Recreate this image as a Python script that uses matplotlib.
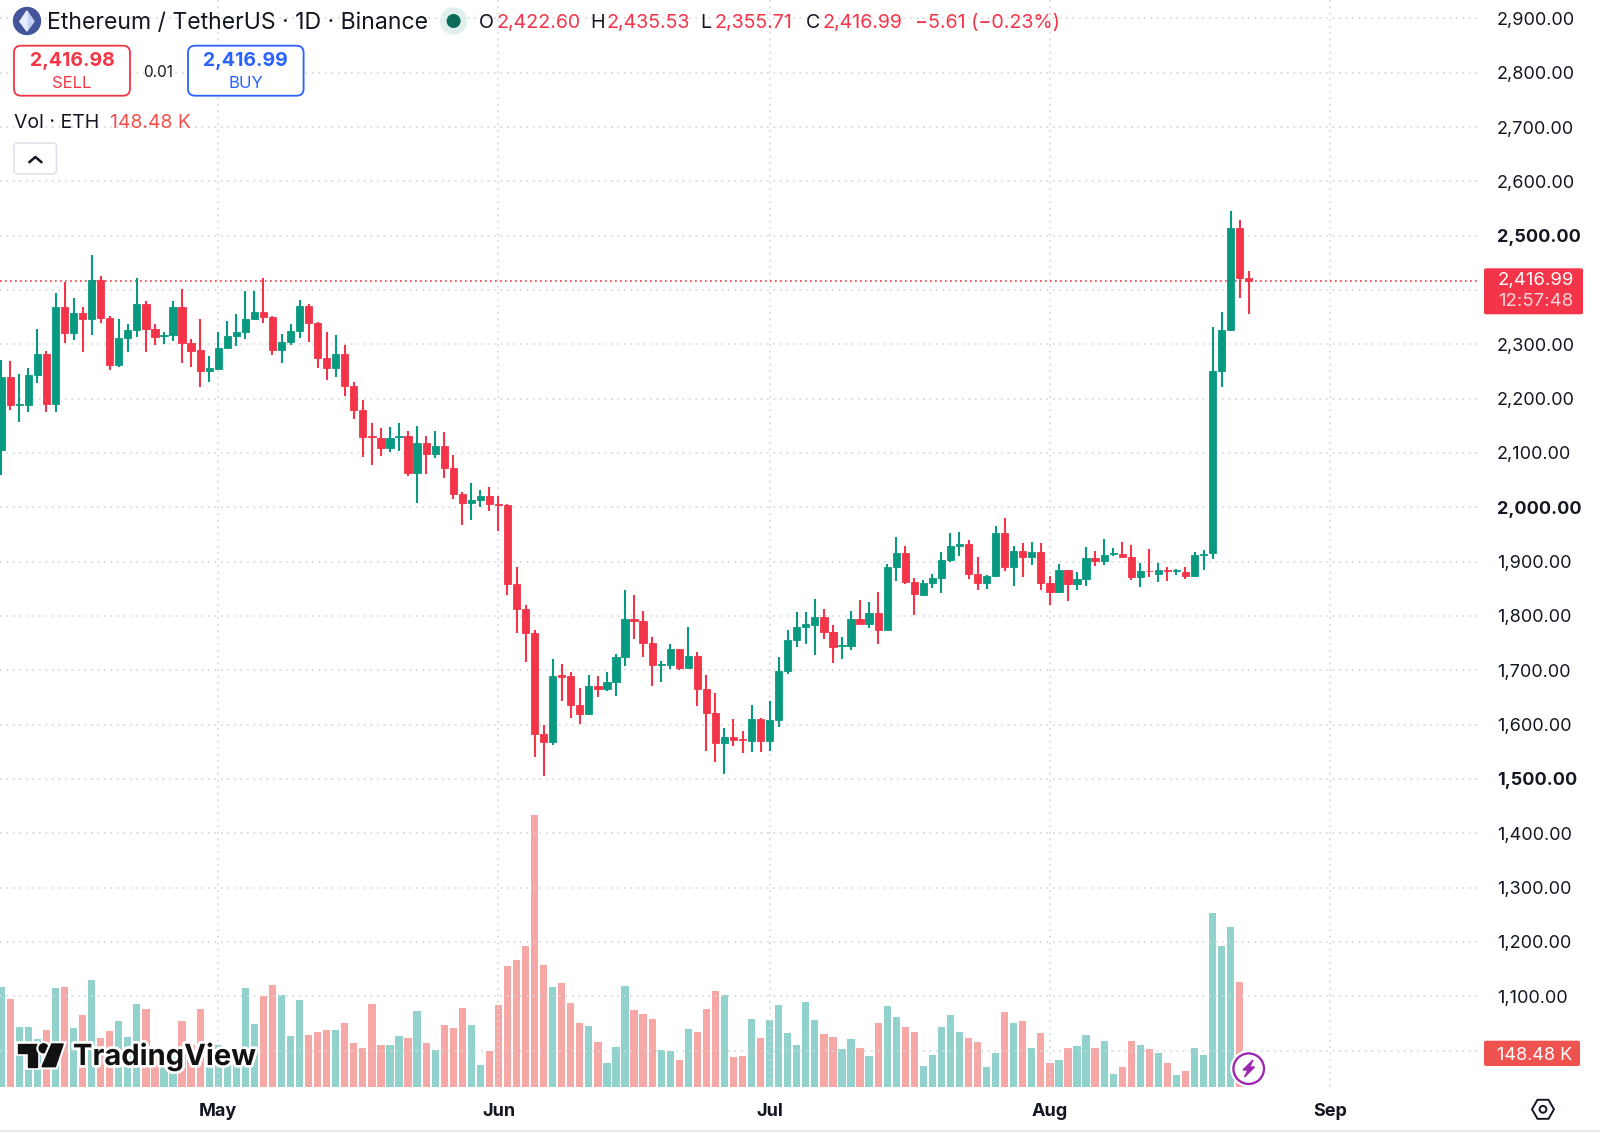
import numpy as np
import matplotlib
matplotlib.use("Agg")
import matplotlib.pyplot as plt
from matplotlib.patches import Circle, FancyBboxPatch, Polygon, Rectangle
import matplotlib.patheffects as pe

plt.rcParams['font.family'] = ['Inter', 'DejaVu Sans']

# daily candles, first one is 24 days before May 1
opens = [2105, 2239, 2189, 2189, 2243, 2283, 2190, 2368, 2321, 2358, 2347, 2418, 2348, 2262, 2312, 2326, 2374, 2329, 2315, 2318,
         2368, 2303, 2289, 2251, 2255, 2294, 2315, 2323, 2346, 2359, 2350, 2290, 2305, 2325, 2370, 2339, 2274, 2257, 2282, 2224,
         2180, 2131, 2127, 2110, 2129, 2132, 2064, 2118, 2099, 2112, 2072, 2024, 2008, 2013, 2021, 2007, 2005, 1858, 1812, 1769,
         1582, 1568, 1691, 1689, 1637, 1620, 1672, 1665, 1679, 1724, 1794, 1791, 1750, 1709, 1709, 1740, 1705, 1726, 1665, 1621,
         1567, 1577, 1574, 1570, 1611, 1570, 1608, 1698, 1756, 1779, 1784, 1798, 1770, 1744, 1744, 1795, 1786, 1805, 1774, 1891,
         1916, 1863, 1839, 1860, 1870, 1903, 1928, 1932, 1877, 1861, 1873, 1953, 1891, 1920, 1909, 1917, 1861, 1844, 1884, 1859,
         1869, 1907, 1902, 1915, 1914, 1909, 1872, 1883, 1878, 1885, 1882, 1881, 1874, 1912, 1916, 2251, 2326, 2515, 2422.60]
closes = [2239, 2189, 2191, 2243, 2283, 2190, 2368, 2321, 2358, 2347, 2418, 2348, 2262, 2312, 2326, 2374, 2329, 2314, 2318, 2368,
          2303, 2288, 2251, 2256, 2294, 2315, 2323, 2346, 2359, 2350, 2290, 2305, 2325, 2370, 2339, 2274, 2257, 2282, 2224, 2180,
          2130, 2129, 2110, 2127, 2132, 2064, 2118, 2099, 2112, 2072, 2024, 2008, 2013, 2021, 2006, 2005, 1858, 1812, 1769, 1582,
          1568, 1689, 1688, 1637, 1620, 1672, 1665, 1678, 1724, 1794, 1791, 1750, 1709, 1711, 1740, 1705, 1726, 1665, 1621, 1567,
          1577, 1572, 1572, 1611, 1570, 1608, 1698, 1756, 1779, 1785, 1798, 1770, 1742, 1746, 1795, 1786, 1805, 1775, 1891, 1916,
          1863, 1840, 1860, 1870, 1903, 1928, 1932, 1877, 1861, 1873, 1953, 1891, 1920, 1909, 1917, 1861, 1844, 1884, 1859, 1869,
          1907, 1902, 1913, 1916, 1909, 1872, 1882, 1882, 1884, 1882, 1884, 1874, 1912, 1915, 2251, 2326, 2515, 2423, 2416.99]
highs = [2272, 2270, 2245, 2257, 2329, 2288, 2394, 2415, 2385, 2368, 2464, 2426, 2353, 2346, 2337, 2422, 2380, 2337, 2323, 2379,
         2402, 2309, 2346, 2278, 2323, 2343, 2356, 2399, 2399, 2422, 2352, 2319, 2337, 2382, 2374, 2341, 2323, 2318, 2299, 2231,
         2197, 2156, 2146, 2147, 2156, 2140, 2149, 2131, 2141, 2139, 2096, 2028, 2045, 2031, 2037, 2020, 2006, 1891, 1820, 1774,
         1600, 1720, 1712, 1696, 1667, 1691, 1690, 1696, 1730, 1848, 1839, 1809, 1761, 1718, 1748, 1740, 1779, 1734, 1691, 1659,
         1593, 1610, 1588, 1636, 1613, 1644, 1724, 1775, 1807, 1807, 1831, 1812, 1783, 1761, 1810, 1829, 1826, 1844, 1895, 1945,
         1929, 1870, 1866, 1878, 1917, 1952, 1955, 1939, 1908, 1876, 1966, 1980, 1928, 1934, 1936, 1934, 1874, 1896, 1885, 1881,
         1927, 1919, 1941, 1926, 1937, 1930, 1897, 1923, 1898, 1890, 1886, 1891, 1917, 1921, 2332, 2359, 2546, 2529, 2435.53]
lows = [2059, 2179, 2157, 2176, 2229, 2175, 2175, 2303, 2308, 2285, 2318, 2340, 2253, 2259, 2285, 2314, 2286, 2299, 2301, 2307,
        2266, 2258, 2221, 2231, 2254, 2293, 2297, 2309, 2345, 2339, 2280, 2265, 2299, 2312, 2304, 2256, 2234, 2239, 2205, 2162,
        2092, 2077, 2095, 2102, 2104, 2058, 2008, 2062, 2091, 2054, 2016, 1967, 1977, 2001, 1993, 1956, 1838, 1769, 1716, 1540,
        1505, 1563, 1643, 1613, 1602, 1618, 1651, 1662, 1653, 1708, 1758, 1724, 1672, 1678, 1703, 1701, 1704, 1635, 1552, 1531,
        1510, 1561, 1548, 1550, 1550, 1552, 1596, 1694, 1743, 1748, 1728, 1758, 1713, 1721, 1737, 1785, 1778, 1749, 1773, 1864,
        1858, 1802, 1837, 1852, 1842, 1900, 1910, 1869, 1848, 1850, 1872, 1882, 1856, 1871, 1893, 1848, 1821, 1843, 1828, 1848,
        1855, 1892, 1893, 1911, 1907, 1867, 1853, 1872, 1863, 1864, 1875, 1869, 1872, 1885, 1905, 2222, 2325, 2386, 2355.71]
# volume in thousands of ETH
volumes = [441, 388, 264, 261, 209, 250, 435, 441, 259, 314, 470, 214, 245, 288, 219, 364, 341, 176, 162, 132,
           288, 184, 341, 162, 184, 132, 118, 435, 275, 401, 448, 404, 222, 382, 228, 241, 250, 250, 279, 192,
           169, 364, 182, 182, 225, 214, 335, 192, 162, 272, 259, 348, 272, 95, 159, 358, 532, 558, 620, 1197,
           535, 438, 458, 368, 279, 267, 195, 106, 173, 444, 338, 322, 298, 160, 157, 119, 253, 239, 342, 422,
           404, 129, 135, 298, 214, 295, 358, 237, 185, 375, 295, 232, 219, 167, 209, 172, 135, 282, 355, 308,
           261, 242, 93, 138, 261, 314, 242, 213, 195, 87, 150, 329, 279, 289, 172, 235, 106, 119, 169, 179,
           228, 172, 203, 56, 87, 203, 185, 166, 150, 106, 50, 69, 169, 138, 764, 620, 705, 463, 148.48]
month_pos = [24, 55, 85, 116, 147]
month_labels = ['May', 'Jun', 'Jul', 'Aug', 'Sep']
price_ticks = list(range(1000, 3000, 100))
hidden_prices = [1000, 2400]  # covered by the tags
bold_prices = [1500, 2000, 2500]
last_price = 2416.99

GREEN = '#089981'
RED = '#f43549'
GRID = '#d4d6db'
INK = '#131722'

W, H = 1600, 1134
fig = plt.figure(figsize=(W / 100, H / 100), dpi=100, facecolor='white')
pane = [0, (H - 1086.7) / H, 1480 / W, 1086.7 / H]

# volume pane sits behind the candles
ax_vol = fig.add_axes(pane, zorder=1)
ax = fig.add_axes(pane, zorder=2, facecolor='none')

x = np.arange(len(closes))
opens = np.array(opens)
closes = np.array(closes)
up = closes >= opens

ax_vol.set_ylim(0, 4788)
ax_vol.set_xlim(-0.14, 163.58)
ax_vol.bar(x, volumes, width=0.8, color=['#26a69a' if u else '#ef5350' for u in up], alpha=0.5, linewidth=0)
ax_vol.axis('off')

ax.set_xlim(-0.14, 163.58)
ax.set_ylim(933.6, 2933.8)
ax.grid(True, color=GRID, linewidth=1.2, linestyle=(0, (1, 2.9)))
ax.set_axisbelow(True)

colors = [GREEN if u else RED for u in up]
ax.vlines(x, lows, highs, color=colors, linewidth=1.5, zorder=3)
ax.bar(x, np.abs(closes - opens), bottom=np.minimum(opens, closes), width=0.8, color=colors,
       edgecolor=colors, linewidth=0.6, zorder=4)
ax.axhline(last_price, color='#f23645', linewidth=1.2, linestyle=(0, (1, 2)), zorder=2)

ax.set_xticks(month_pos)
ax.set_xticklabels(month_labels, fontsize=13, fontweight='bold', color=INK)
ax.yaxis.tick_right()
ax.set_yticks(price_ticks)
ax.set_yticklabels(['' if p in hidden_prices else f'{p:,.2f}' for p in price_ticks], fontsize=13, color=INK)
for lab, p in zip(ax.get_yticklabels(), price_ticks):
    if p in bold_prices:
        lab.set_fontweight('bold')
ax.tick_params(axis='both', length=0)
ax.tick_params(axis='y', pad=12.2)
ax.tick_params(axis='x', pad=12)
for s in ax.spines.values():
    s.set_visible(False)

# overlay in screen pixels for the trading view furniture
ui = fig.add_axes([0, 0, 1, 1], zorder=5, facecolor='none')
ui.set_xlim(0, W)
ui.set_ylim(H, 0)
ui.axis('off')


def label(px, py, s, size=14, color=INK, ha='left', weight='normal', **kw):
    return ui.text(px, py + 2, s, fontsize=size, color=color, ha=ha, va='center', fontweight=weight, **kw)


# header
ui.add_patch(Circle((27, 21), 13.5, color='#44549b'))
ui.add_patch(Polygon([(27, 11), (34, 21.5), (27, 31), (20, 21.5)], color='#c5d2f5'))
ui.add_patch(Polygon([(27, 11), (27, 31), (20, 21.5)], color='#e6ecfd'))
label(47, 21, 'Ethereum / TetherUS · 1D · Binance', size=16.6)
ui.add_patch(Circle((453.6, 21), 13, color='#e0efec'))
ui.add_patch(Circle((453.6, 21), 6.3, color='#0b6b5a'))

label(479, 21, 'O', size=14.1)
label(497, 21, '2,422.60', size=14.1, color=RED)
label(590, 21, 'H', size=14.1)
label(607, 21, '2,435.53', size=14.1, color=RED)
label(700, 21, 'L', size=14.1)
label(714, 21, '2,355.71', size=14.1, color=RED)
label(806, 21, 'C', size=14.1)
label(823, 21, '2,416.99', size=14.1, color=RED)
label(915, 21, '−5.61 (−0.23%)', size=14.2, color=RED)

# sell / buy buttons
for bx0, bx1, col, price, word in [(14, 130, '#f23645', '2,416.98', 'SELL'), (188, 303.6, '#2962ff', '2,416.99', 'BUY')]:
    ui.add_patch(FancyBboxPatch((bx0 + 6, 51.7), bx1 - bx0 - 12, 38, boxstyle='round,pad=6,rounding_size=7',
                                facecolor='white', edgecolor=col, linewidth=1.3))
    label((bx0 + bx1) / 2, 59, price, size=14, color=col, ha='center', weight='bold')
    label((bx0 + bx1) / 2, 81.5, word, size=12, color=col, ha='center')
label(158.5, 70.5, '0.01', size=11, ha='center')

label(14, 121, 'Vol · ETH', size=14)
label(110, 121, '148.48 K', size=14, color='#ef5350')
ui.add_patch(FancyBboxPatch((18, 147), 34.5, 23, boxstyle='round,pad=4,rounding_size=4',
                            facecolor='white', edgecolor='#e0e3eb', linewidth=1.2))
ui.plot([29.5, 35.4, 41.3], [162, 157, 162], color=INK, linewidth=1.8)

# last price and volume tags
ui.add_patch(FancyBboxPatch((1484, 268.3), 99, 46, boxstyle='round,pad=0,rounding_size=2', color='#f43549', linewidth=0))
label(1535.5, 278.5, '2,416.99', size=13.4, color='white', ha='center')
label(1535.5, 300, '12:57:48', size=13.4, color='#ffd5d9', ha='center')
ui.add_patch(FancyBboxPatch((1484, 1040.7), 96, 25.3, boxstyle='round,pad=0,rounding_size=2', color='#ef5350', linewidth=0))
label(1535, 1053, '148.48 K', size=13, color='white', ha='center')

# watermark
halo = [pe.withStroke(linewidth=4, foreground='white')]
mark = [Polygon([(18, 1044), (36.8, 1044), (36.8, 1066.7), (27.9, 1066.7), (27.9, 1052.7), (18, 1052.7)], color='#111111'),
        Circle((43.6, 1048.3), 4.5, color='#111111'),
        Polygon([(51.8, 1044), (63.2, 1044), (55.4, 1066.7), (42, 1066.7)], color='#111111')]
for m in mark:
    m.set_path_effects(halo)
    ui.add_patch(m)
label(73, 1055, 'TradingView', size=21, color='#111111', weight='bold', path_effects=halo)

# bolt badge
ui.add_patch(Circle((1248.7, 1068.7), 15.5, facecolor='white', edgecolor='#9c27b0', linewidth=2))
ui.add_patch(Circle((1248.7, 1068.7), 17.5, facecolor='none', edgecolor='white', linewidth=1.5))
ui.add_patch(Polygon([(1253, 1060), (1243, 1070), (1248, 1070), (1244.5, 1077), (1254.5, 1067), (1249.5, 1067)], color='#9c27b0'))

# settings hexagon
gx, gy = 1543, 1109.3
ang = np.radians(np.arange(0, 360, 60))
ui.add_patch(Polygon(np.c_[gx + 11 * np.cos(ang), gy + 11 * np.sin(ang)], closed=True, fill=False, edgecolor=INK, linewidth=1.4))
ui.add_patch(Circle((gx, gy), 3.4, fill=False, edgecolor=INK, linewidth=1.4))

ui.plot([0, W], [1130.5, 1130.5], color='#e8e9ec', linewidth=1.5)

fig.savefig('out.png', dpi=100)
